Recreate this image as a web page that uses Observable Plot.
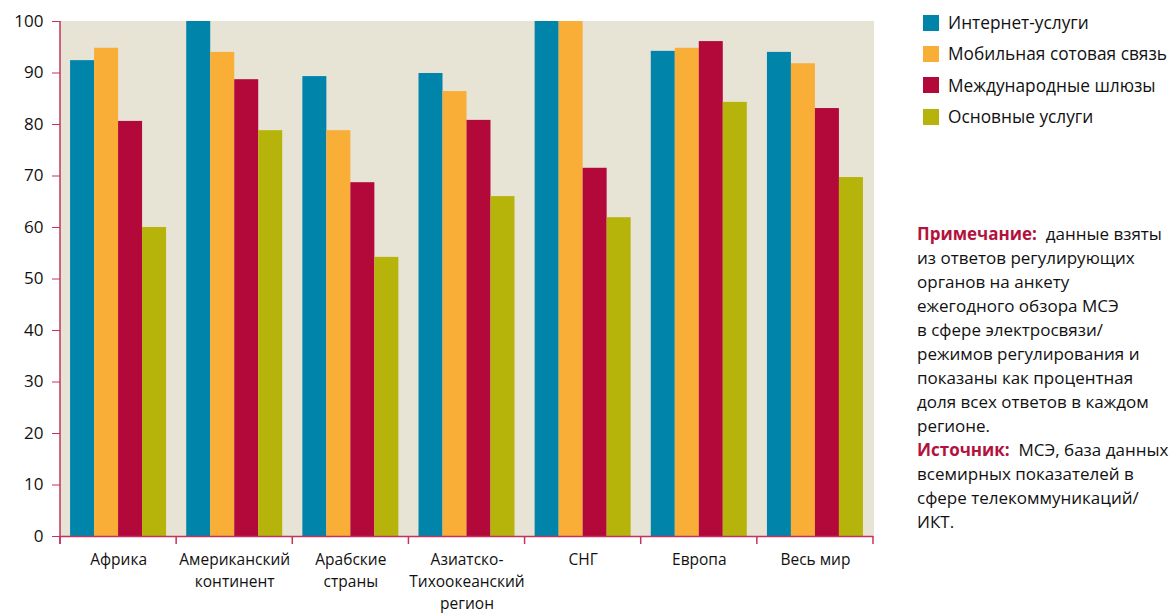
<!DOCTYPE html>
<html>
<head>
<meta charset="utf-8">
<script src="https://cdn.jsdelivr.net/npm/d3@7"></script>
<script src="https://cdn.jsdelivr.net/npm/@observablehq/plot@0.6"></script>
<style>
  html, body { margin: 0; padding: 0; background: #fff; }
  #wrap { position: relative; width: 1174px; height: 615px; font-family: "Open Sans", sans-serif; color: #111; }
  #chart { position: absolute; left: 0; top: 0; }
  #legend { position: absolute; left: 923px; top: 7px; font-size: 17.3px; }
  .row { display: flex; align-items: center; height: 31.3px; white-space: nowrap; }
  .sw { width: 16px; height: 16px; margin-right: 9px; flex: none; }
  #note { position: absolute; left: 917px; top: 222px; font-size: 17px; line-height: 24px; white-space: nowrap; }
  #note b { color: #b3123d; font-weight: 700; }
</style>
</head>
<body>
<div id="wrap">
  <div id="chart"></div>
  <div id="legend"></div>
  <div id="note">
    <div><b>Примечание:</b>&nbsp; данные взяты</div>
    <div>из ответов регулирующих</div>
    <div>органов на анкету</div>
    <div>ежегодного обзора МСЭ</div>
    <div>в сфере электросвязи/</div>
    <div>режимов регулирования и</div>
    <div>показаны как процентная</div>
    <div>доля всех ответов в каждом</div>
    <div>регионе.</div>
    <div><b>Источник:</b>&nbsp; МСЭ, база данных</div>
    <div>всемирных показателей в</div>
    <div>сфере телекоммуникаций/</div>
    <div>ИКТ.</div>
  </div>
</div>
<script>
const regions = ["Африка", "Американский континент", "Арабские страны", "Азиатско-Тихоокеанский регион", "СНГ", "Европа", "Весь мир"];
const regionLabels = ["Африка", "Американский\nконтинент", "Арабские\nстраны", "Азиатско-\nТихоокеанский\nрегион", "СНГ", "Европа", "Весь мир"];
const series = ["Интернет-услуги", "Мобильная сотовая связь", "Международные шлюзы", "Основные услуги"];
const colors = ["#0084aa", "#f9ae38", "#b3093a", "#b6b30b"];
const internet = [92.4, 100, 89.3, 89.9, 100, 94.2, 94.0];
const mobile   = [94.8, 94.0, 78.8, 86.4, 100, 94.8, 91.8];
const gateways = [80.6, 88.7, 68.7, 80.8, 71.5, 96.1, 83.1];
const basic    = [60.0, 78.8, 54.2, 66.0, 61.9, 84.3, 69.7];
const yTicks = [0, 10, 20, 30, 40, 50, 60, 70, 80, 90, 100];

const seriesValues = [internet, mobile, gateways, basic];
const data = [];
regions.forEach((r, i) => {
  series.forEach((s, j) => data.push({region: r, series: s, value: seriesValues[j][i]}));
});

const axisColor = "#c4335f";
const bg = "#e7e3d5";

const plot = Plot.plot({
  width: 880,
  height: 615,
  marginLeft: 60,
  marginRight: 7,
  marginTop: 21,
  marginBottom: 79,
  style: {fontFamily: "'Open Sans', sans-serif", background: "#fff", color: "#111"},
  fx: {domain: regions, padding: 0, round: false, label: null},
  x: {domain: series, paddingInner: 0, paddingOuter: 0.42, round: false, axis: null},
  y: {domain: [0, 100], label: null},
  color: {domain: series, range: colors},
  marks: [
    Plot.frame({fill: bg, stroke: bg, strokeWidth: 1}),
    Plot.barY(data, {fx: "region", x: "series", y: "value", fill: "series"}),
    Plot.ruleY([0], {stroke: axisColor, strokeWidth: 1.5}),
    Plot.axisY({ticks: yTicks, tickSize: 8, tickPadding: 9, stroke: axisColor, fill: "#111", fontSize: 17, label: null}),
    Plot.axisFx({anchor: "bottom", tickSize: 0, tickPadding: 13, fontSize: 15.5, lineHeight: 1.42, fill: "#111", label: null,
      tickFormat: (d) => regionLabels[regions.indexOf(d)]})
  ]
});
document.getElementById("chart").appendChild(plot);

// axis line and boundary ticks from the library's scales
const fxS = plot.scale("fx");
const yS = plot.scale("y");
const svg = d3.select(plot);
const x0 = fxS.apply(regions[0]);
const y0 = yS.apply(0), y100 = yS.apply(100);
const bounds = regions.map(r => fxS.apply(r)).concat([fxS.apply(regions[regions.length - 1]) + fxS.bandwidth]);
const g = svg.append("g").attr("stroke", axisColor).attr("stroke-width", 1.5);
g.append("line").attr("x1", x0).attr("x2", x0).attr("y1", y100).attr("y2", y0 + 8);
bounds.forEach(b => g.append("line").attr("x1", b).attr("x2", b).attr("y1", y0).attr("y2", y0 + 8));

// legend
const legend = d3.select("#legend");
series.forEach((s, i) => {
  const row = legend.append("div").attr("class", "row");
  row.append("div").attr("class", "sw").style("background", colors[i]);
  row.append("span").text(s);
});
</script>
</body>
</html>
